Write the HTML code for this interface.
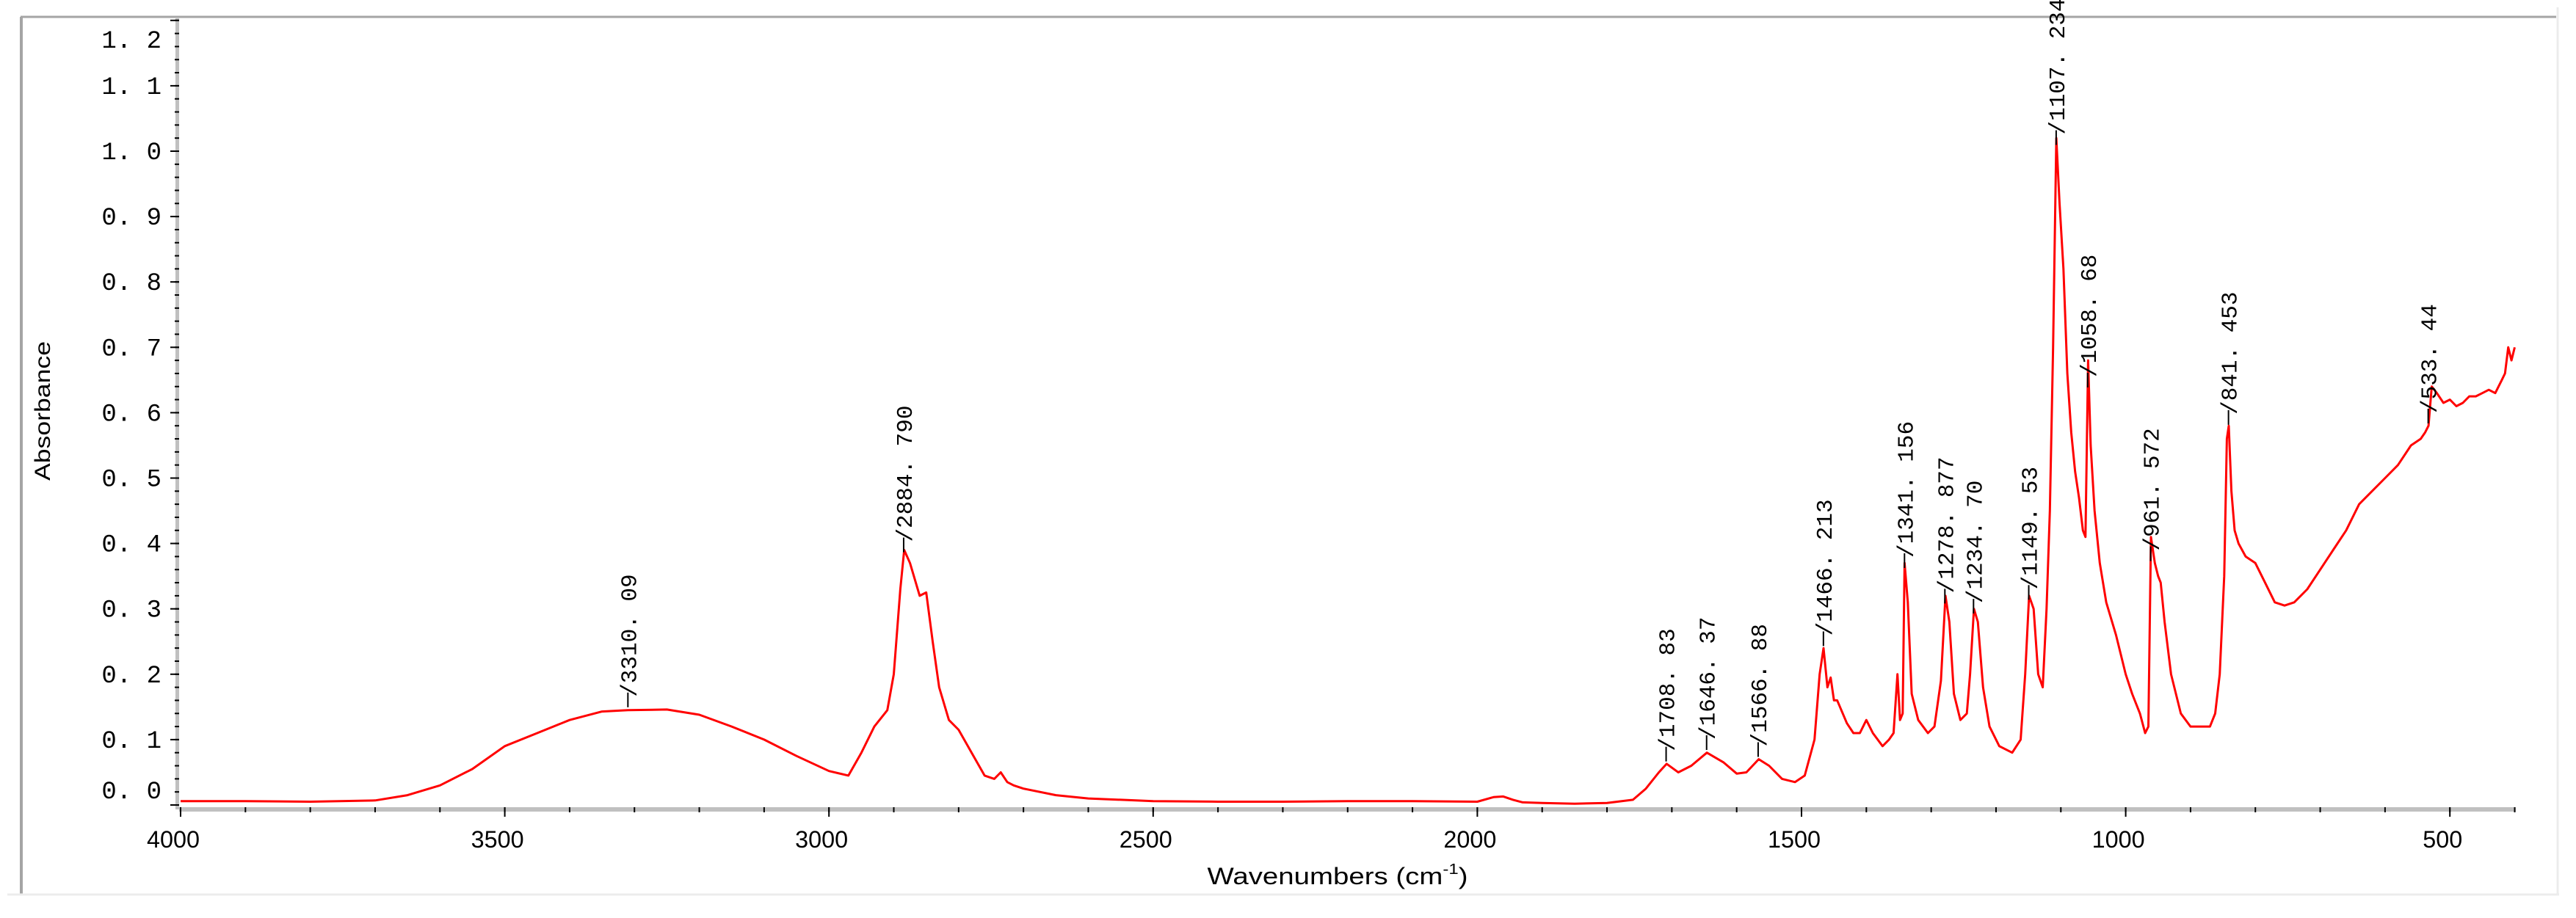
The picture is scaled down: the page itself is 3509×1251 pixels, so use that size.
<!DOCTYPE html>
<html><head><meta charset="utf-8"><style>
html,body{margin:0;padding:0;background:#fff;}
svg{display:block;}
</style></head><body>
<svg id="chart" width="3509" height="1251" xmlns="http://www.w3.org/2000/svg">
<rect x="0" y="0" width="3509" height="1251" fill="#fff"/>
<line x1="28" y1="23" x2="3482" y2="23" stroke="#a5a5a5" stroke-width="3"/>
<line x1="29" y1="23" x2="29" y2="1218" stroke="#a5a5a5" stroke-width="4"/>
<line x1="3484" y1="10" x2="3484" y2="1220" stroke="#ececec" stroke-width="3"/>
<line x1="10" y1="1219" x2="3486" y2="1219" stroke="#ececec" stroke-width="3"/>
<g id="axes"></g>
<g id="series"></g>
<g id="annots"></g>
<text transform="translate(68,560) rotate(-90)" text-anchor="middle" font-family="Liberation Sans, sans-serif" font-size="30" textLength="190" lengthAdjust="spacingAndGlyphs" fill="#000">Absorbance</text>
<text x="1822" y="1205" text-anchor="middle" font-family="Liberation Sans, sans-serif" font-size="32" textLength="355" lengthAdjust="spacingAndGlyphs" fill="#000">Wavenumbers (cm<tspan font-size="20" dy="-14">-1</tspan><tspan dy="14">)</tspan></text>
</svg>
<script>
const wavenumbers=[4000,3900,3800,3700,3650,3600,3550,3500,3450,3400,3350,3310,3250,3200,3150,3100,3050,3000,2970,2950,2930,2910,2900,2890,2884,2875,2860,2850,2840,2830,2815,2800,2780,2760,2745,2735,2725,2715,2700,2650,2600,2500,2400,2300,2200,2100,2000,1975,1960,1945,1930,1900,1850,1800,1760,1740,1720,1708,1690,1670,1646,1620,1600,1585,1566,1550,1530,1510,1495,1480,1472,1466,1460,1455,1450,1445,1430,1420,1410,1400,1390,1375,1365,1358,1352,1348,1344,1341,1336,1330,1320,1305,1295,1285,1278,1272,1265,1255,1245,1240,1234,1228,1220,1210,1195,1175,1162,1155,1149,1142,1135,1128,1122,1117,1112,1107,1102,1096,1090,1084,1078,1072,1066,1062,1058,1054,1048,1040,1030,1015,1000,990,978,970,965,961,955,950,946,940,930,915,900,885,870,862,855,848,844,841,837,832,826,815,800,785,770,755,740,720,700,680,660,640,620,600,580,560,545,538,533,528,520,510,500,490,480,470,460,450,440,430,420,415,410,405,400];
const absorbance=[0.006,0.006,0.005,0.007,0.015,0.03,0.055,0.09,0.11,0.13,0.143,0.145,0.146,0.138,0.12,0.1,0.075,0.052,0.045,0.08,0.12,0.145,0.2,0.33,0.39,0.37,0.32,0.325,0.25,0.18,0.13,0.115,0.08,0.045,0.04,0.05,0.035,0.03,0.025,0.015,0.01,0.006,0.005,0.005,0.006,0.006,0.005,0.012,0.013,0.008,0.004,0.003,0.002,0.003,0.008,0.025,0.05,0.063,0.05,0.06,0.08,0.065,0.048,0.05,0.07,0.06,0.04,0.035,0.045,0.1,0.2,0.24,0.18,0.195,0.16,0.16,0.125,0.11,0.11,0.13,0.11,0.09,0.1,0.11,0.2,0.13,0.14,0.37,0.31,0.17,0.13,0.11,0.12,0.19,0.32,0.28,0.17,0.13,0.14,0.2,0.30,0.28,0.18,0.12,0.09,0.08,0.1,0.2,0.32,0.3,0.2,0.18,0.3,0.45,0.7,1.02,0.92,0.82,0.66,0.57,0.51,0.47,0.42,0.41,0.68,0.55,0.45,0.37,0.31,0.26,0.2,0.17,0.14,0.11,0.12,0.41,0.37,0.35,0.34,0.28,0.2,0.14,0.12,0.12,0.12,0.14,0.2,0.35,0.56,0.58,0.48,0.42,0.4,0.38,0.37,0.34,0.31,0.305,0.31,0.33,0.36,0.39,0.42,0.46,0.48,0.5,0.52,0.55,0.56,0.57,0.58,0.64,0.63,0.615,0.62,0.61,0.615,0.625,0.625,0.63,0.635,0.63,0.65,0.66,0.7,0.68,0.7,0.66,0.68];
const yTicks=[0.0,0.1,0.2,0.3,0.4,0.5,0.6,0.7,0.8,0.9,1.0,1.1,1.2];
const xTicks=[4000,3500,3000,2500,2000,1500,1000,500];
const peakLabels=["3310.09","2884.790","1708.83","1646.37","1566.88","1466.213","1341.156","1278.877","1234.70","1149.53","1107.234","1058.68","961.572","841.453","533.44"];
const peakPositions=[3310.09,2884.79,1708.83,1646.37,1566.88,1466.213,1341.156,1278.877,1234.70,1149.53,1107.234,1058.68,961.572,841.453,533.44];

const NS='http://www.w3.org/2000/svg';
const X=w=>246+(4000-w)*0.8832;
const Y=a=>1097-a*891;
function mk(tag,attrs,parent){const e=document.createElementNS(NS,tag);for(const k in attrs)e.setAttribute(k,attrs[k]);parent.appendChild(e);return e;}
const axes=document.getElementById('axes');
let e=mk('rect',{x:239,y:25,width:5,height:1078,fill:'#c0c0c0'},axes);


e=mk('rect',{x:244,y:1100,width:3183,height:6,fill:'#c0c0c0'},axes);


for(let v=0;v<=1.2001;v+=0.02){
  e=mk('line',{x1:238,x2:244,y1:Y(v),y2:Y(v),stroke:'#000','stroke-width':2},axes);
  
  
}
yTicks.forEach(v=>{
  e=mk('line',{x1:232,x2:244,y1:Y(v),y2:Y(v),stroke:'#000','stroke-width':2},axes);
  
  
  let ly=Y(v)+11; if(v===0)ly-=20; if(v>1.15)ly+=26;
  const t=mk('text',{x:220,y:ly,'text-anchor':'end','font-family':'Liberation Mono, monospace','font-size':34,fill:'#000'},axes);
  t.textContent=v.toFixed(1).replace('.','. ');
  
  
});
for(let w=4000;w>=400;w-=100){
  e=mk('line',{x1:X(w),x2:X(w),y1:1100,y2:1107,stroke:'#000','stroke-width':2},axes);
  
  
}
xTicks.forEach(w=>{
  e=mk('line',{x1:X(w),x2:X(w),y1:1100,y2:1113,stroke:'#000','stroke-width':2},axes);
  
  
  const t=mk('text',{x:X(w)-10,y:1155,'text-anchor':'middle','font-family':'Liberation Sans, sans-serif','font-size':32,fill:'#000',textLength:w>=1000?72:54,lengthAdjust:'spacingAndGlyphs'},axes);
  t.textContent=String(w);
  
  
});
const series=document.getElementById('series');
const pts=wavenumbers.map((w,i)=>X(w).toFixed(1)+','+Y(absorbance[i]).toFixed(1)).join(' ');
e=mk('polyline',{points:pts,fill:'none',stroke:'#ff0000','stroke-width':3,'stroke-linejoin':'round'},series);


function interp(w){for(let i=0;i<wavenumbers.length-1;i++){const a=wavenumbers[i],b=wavenumbers[i+1];if(w<=a&&w>=b){const f=(a-w)/(a-b);return absorbance[i]+f*(absorbance[i+1]-absorbance[i]);}}return 0;}
const annots=document.getElementById('annots');
peakPositions.forEach((w,i)=>{
  const x=X(w), y=Y(interp(w))-4;
  e=mk('line',{x1:x,x2:x,y1:y,y2:y-20,stroke:'#000','stroke-width':2},annots);
  
  
  const t=mk('text',{transform:`translate(${x+11},${y-14}) rotate(-90)`,'font-family':'Liberation Mono, monospace','font-size':31,fill:'#000'},annots);
  t.textContent='/'+peakLabels[i].replace('.','. ');
  
  
});
</script>
</body></html>
